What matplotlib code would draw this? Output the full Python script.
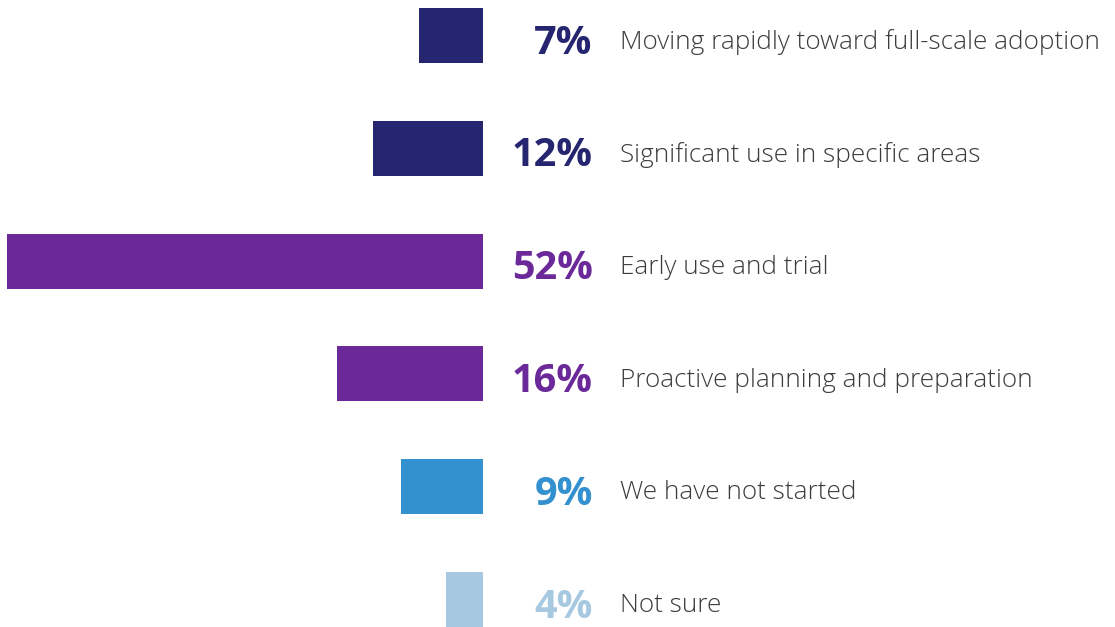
import matplotlib
matplotlib.use('Agg')
import matplotlib.pyplot as plt

labels = ['Moving rapidly toward full-scale adoption', 'Significant use in specific areas',
          'Early use and trial', 'Proactive planning and preparation',
          'We have not started', 'Not sure']
values = [7, 12, 52, 16, 9, 4]
colors = ['#25266f', '#25266f', '#6a2899', '#6a2899', '#3391d0', '#a7c8e1']

fig = plt.figure(figsize=(11.15, 6.27), dpi=100)
ax = fig.add_axes([0, 0, 1, 1])

pos = list(range(len(values)))
ax.barh(pos, values, height=0.488, color=colors)

# x axis inverted so bars grow leftward from the value column
ax.set_xlim(483 / 9.15, -(1115 - 483) / 9.15)
ax.set_ylim((627 - 35.5) / 112.8, -35.5 / 112.8)
ax.axis('off')

for i, (v, lab, c) in enumerate(zip(values, labels, colors)):
    ax.annotate('{}%'.format(v), (0, i), xytext=(79, -5.5), textcoords='offset points',
                ha='right', va='center', fontsize=28.5, fontweight='bold',
                color=c, family=['Open Sans', 'DejaVu Sans'])
    ax.annotate(lab, (0, i), xytext=(99, -4.5), textcoords='offset points',
                ha='left', va='center', fontsize=18.8, fontweight='light',
                color='#3c3c3c', family=['Open Sans', 'DejaVu Sans'])

fig.savefig('out.png', dpi=100)
